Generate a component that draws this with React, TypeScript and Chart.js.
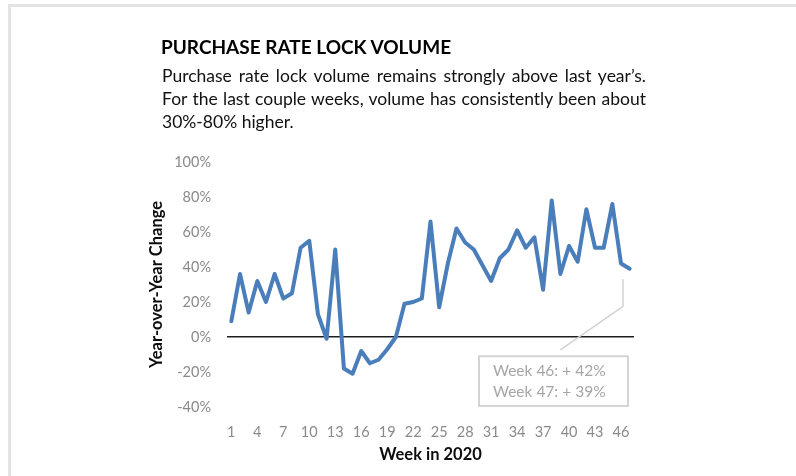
import React, { useEffect, useRef } from "react";
import { Chart, registerables } from "chart.js";

Chart.register(...registerables);

const weeks: string[] = Array.from({ length: 47 }, (_, i) => String(i + 1));
const yoyChange: number[] = [
  9, 36, 14, 32, 20, 36, 22, 25, 51, 55,
  13, -1, 50, -18, -21, -8, -15, -13, -7, 0,
  19, 20, 22, 66, 17, 42, 62, 54, 50, 41,
  32, 45, 50, 61, 51, 57, 27, 78, 36, 52,
  43, 73, 51, 51, 76, 42, 39,
];
const yTicks = { min: -40, max: 100, step: 20 };
const noteLines: string[] = ["Week 46: + 42%", "Week 47: + 39%"];

const FONT = "Lato, 'Noto Sans', sans-serif";

const annotationPlugin = {
  id: "noteBox",
  afterDatasetsDraw(chart: any) {
    const { ctx, scales } = chart;
    const x = scales.x;
    const y = scales.y;
    const ax = x.getPixelForValue(45) + 2;
    const topY = y.getPixelForValue(33);
    const bendY = y.getPixelForValue(17.5);
    const endX = x.getPixelForValue(38);
    const endY = y.getPixelForValue(-7.4);
    ctx.save();
    ctx.strokeStyle = "#d2d2d2";
    ctx.lineWidth = 1.5;
    ctx.beginPath();
    ctx.moveTo(ax, topY);
    ctx.lineTo(ax, bendY);
    ctx.lineTo(endX, endY);
    ctx.stroke();

    const bl = x.getPixelForValue(28.6);
    const br = x.getPixelForValue(45.8);
    const bt = y.getPixelForValue(-11);
    const bb = y.getPixelForValue(-39.4);
    ctx.fillStyle = "#ffffff";
    ctx.fillRect(bl, bt, br - bl, bb - bt);
    ctx.strokeStyle = "#d4d4d4";
    ctx.lineWidth = 2;
    ctx.strokeRect(bl, bt, br - bl, bb - bt);

    ctx.fillStyle = "#a6a6a6";
    ctx.font = `15.5px ${FONT}`;
    ctx.textBaseline = "middle";
    ctx.textAlign = "left";
    const mid = (bt + bb) / 2;
    ctx.fillText(noteLines[0], bl + 14, mid - 10.5);
    ctx.fillText(noteLines[1], bl + 14, mid + 10.5);
    ctx.restore();
  },
};

export default function App() {
  const ref = useRef<HTMLCanvasElement | null>(null);

  useEffect(() => {
    if (!ref.current) return;
    const chart = new Chart(ref.current, {
      type: "line",
      data: {
        labels: weeks,
        datasets: [
          {
            data: yoyChange,
            borderColor: "#4a7ebb",
            borderWidth: 4,
            pointRadius: 0,
            tension: 0,
            borderJoinStyle: "round",
            borderCapStyle: "round",
          },
        ],
      },
      options: {
        animation: false,
        responsive: false,
        devicePixelRatio: 1,
        layout: { padding: { left: 140, right: 162, top: 162, bottom: 9 } },
        plugins: {
          legend: { display: false },
          tooltip: { enabled: false },
          title: { display: false },
        },
        scales: {
          x: {
            type: "category",
            offset: true,
            grid: { display: false, drawTicks: false },
            border: { display: false },
            ticks: {
              autoSkip: false,
              maxRotation: 0,
              minRotation: 0,
              padding: 17,
              color: "#8a8a8a",
              font: { family: FONT, size: 14.5 },
              callback: (_v: any, i: number) => (i % 3 === 0 ? weeks[i] : ""),
            },
            title: {
              display: true,
              text: "Week in 2020",
              color: "#0d0d0d",
              font: { family: FONT, size: 16.5, weight: "bold" },
              padding: { top: 0, bottom: 2 },
            },
            afterFit: (s: any) => {
              s.height = 60;
            },
          },
          y: {
            min: yTicks.min,
            max: yTicks.max,
            grid: {
              drawTicks: false,
              color: (c: any) => (c.tick && c.tick.value === 0 ? "#1e1e1e" : "rgba(0,0,0,0)"),
              lineWidth: 1.5,
            },
            border: { display: false },
            ticks: {
              stepSize: yTicks.step,
              padding: 16,
              color: "#8a8a8a",
              font: { family: FONT, size: 14.5 },
              callback: (v: any) => `${v}%`,
            },
            title: {
              display: true,
              text: "Year-over-Year Change",
              color: "#0d0d0d",
              font: { family: FONT, size: 16.5, weight: "bold" },
              padding: { top: 7, bottom: 0 },
            },
            afterFit: (s: any) => {
              s.width = 87;
            },
          },
        },
      },
      plugins: [annotationPlugin],
    });
    return () => chart.destroy();
  }, []);

  const lineStyle: React.CSSProperties = {
    textAlign: "justify",
    textAlignLast: "justify" as any,
    whiteSpace: "nowrap",
  };

  return (
    <div
      style={{
        position: "absolute",
        left: 0,
        top: 0,
        width: 796,
        height: 476,
        overflow: "hidden",
        background: "#ffffff",
      }}
    >
      <div
        style={{
          position: "absolute",
          left: 8,
          top: 4,
          right: 0,
          bottom: 0,
          borderTop: "3px solid #e3e3e3",
          borderLeft: "3px solid #e3e3e3",
        }}
      />
      <canvas
        ref={ref}
        width={796}
        height={476}
        style={{ position: "absolute", left: 0, top: 0, width: 796, height: 476 }}
      />
      <div
        style={{
          position: "absolute",
          left: 161,
          top: 35,
          fontFamily: FONT,
          fontWeight: 700,
          fontSize: 19,
          lineHeight: "24px",
          color: "#000",
          whiteSpace: "nowrap",
        }}
      >
        PURCHASE RATE LOCK VOLUME
      </div>
      <div
        style={{
          position: "absolute",
          left: 162,
          top: 64,
          width: 484,
          fontFamily: FONT,
          fontSize: 17.5,
          lineHeight: "23px",
          color: "#111",
        }}
      >
        <div style={lineStyle}>Purchase rate lock volume remains strongly above last year’s.</div>
        <div style={lineStyle}>For the last couple weeks, volume has consistently been about</div>
        <div style={{ whiteSpace: "nowrap" }}>30%-80% higher.</div>
      </div>
    </div>
  );
}
